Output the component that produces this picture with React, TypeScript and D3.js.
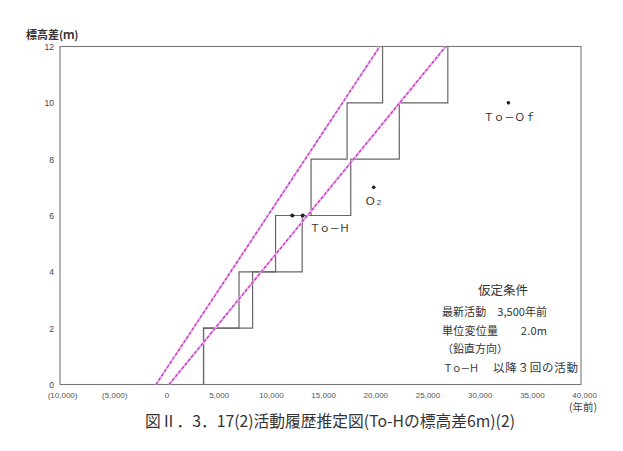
import React from 'react';
import * as d3 from 'd3';

// x: years before present, y: elevation difference (m)
const xTicks = [-10000, -5000, 0, 5000, 10000, 15000, 20000, 25000, 30000, 35000, 40000];
const yTicks = [0, 2, 4, 6, 8, 10, 12];
const eventsShort = [3500, 6900, 10400, 13800, 17250, 20650];
const eventsLong = [3500, 8200, 12950, 17600, 22250, 26900];
const stepHeights = [2, 4, 6, 8, 10, 12];
const trendShort: [number, number][] = [[-1050, 0], [20380, 12]];
const trendLong: [number, number][] = [[200, 0], [26700, 12]];
const toHAges = [12000, 13000];
const toHHeight = 6;
const o2Point = [19800, 7];
const toOfPoint = [32700, 10];
const legendTitle = '仮定条件';
const legendRows = ['最新活動　3,500年前', '単位変位量　　2.0m', '（鉛直方向）'];
const legendLast = ['Ｔｏ－Ｈ', '以降３回の活動'];
const titleText = '図Ⅱ．3．17(2)活動履歴推定図(To-Hの標高差6m)(2)';

const W = 623;
const H = 451;
const frame = { left: 60, right: 581, top: 46.5, bottom: 384.5 };

const x = d3.scaleLinear().domain([-10000, 40000]).range([62.6, 584.6]);
const y = d3.scaleLinear().domain([0, 12]).range([384.5, 46.5]);

const fmtX = (v: number) => {
  if (v === 0) return '0';
  const s = d3.format(',')(Math.abs(v));
  return v < 0 ? `(${s})` : s;
};

function stepPoints(events: number[]): [number, number][] {
  const pts: [number, number][] = [[events[0], 0]];
  events.forEach((e, i) => {
    pts.push([e, stepHeights[i]]);
    if (i < events.length - 1) pts.push([events[i + 1], stepHeights[i]]);
  });
  return pts;
}

const line = d3.line<[number, number]>().x(d => x(d[0])).y(d => y(d[1]));

const sans = '"Liberation Sans", "DejaVu Sans", sans-serif';
const jp = '"Noto Sans CJK JP", "Noto Sans", sans-serif';

export default function App() {
  const stepColor = '#666';
  return (
    <svg width={W} height={H} style={{ position: 'absolute', left: 0, top: 0, background: '#fff' }}>
      <rect x={0} y={0} width={W} height={H} fill="#fff" />
      {/* frame */}
      <rect x={frame.left} y={frame.top} width={frame.right - frame.left} height={frame.bottom - frame.top}
        fill="none" stroke="#777" strokeWidth={1.1} />
      {/* y-axis title */}
      <text x={26} y={39} fontFamily={jp} fontSize={11} fontWeight={700} fill="#333">標高差(ｍ)</text>
      {yTicks.map(v => (
        <text key={v} x={54} y={y(v) + 3.5} textAnchor="end" fontFamily={sans} fontSize={8.5} fill="#444">{v}</text>
      ))}
      {xTicks.map(v => (
        <text key={v} x={x(v)} y={398} textAnchor="middle" fontFamily={sans} fontSize={8} fill="#555">{fmtX(v)}</text>
      ))}
      <text x={569} y={411} fontFamily={jp} fontSize={10.5} fill="#444">(年前)</text>

      {/* staircases */}
      <path d={line(stepPoints(eventsShort)) || ''} fill="none" stroke={stepColor} strokeWidth={1.2} />
      <path d={line(stepPoints(eventsLong)) || ''} fill="none" stroke={stepColor} strokeWidth={1.2} />

      {/* trend lines */}
      {[trendShort, trendLong].map((t, i) => (
        <g key={i}>
          <path d={line(t) || ''} stroke="#f2a8ee" strokeWidth={2.2} fill="none" />
          <path d={line(t) || ''} stroke="#b82cb8" strokeWidth={1.1} strokeDasharray="3 2" fill="none" />
        </g>
      ))}

      {/* points */}
      {toHAges.map(a => (
        <circle key={a} cx={x(a)} cy={y(toHHeight)} r={2} fill="#222" />
      ))}
      <text x={x(toHAges[1]) + 7} y={y(toHHeight) + 16} fontFamily={jp} fontSize={10.5} fill="#333"
        textLength={40} lengthAdjust="spacing">Ｔｏ－Ｈ</text>

      <circle cx={x(o2Point[0])} cy={y(o2Point[1])} r={1.8} fill="#222" />
      <text x={x(o2Point[0]) - 8} y={y(o2Point[1]) + 18} fontFamily={sans} fontSize={11.5} fill="#333">
        O<tspan fontSize={8} dx={2}>2</tspan>
      </text>

      <circle cx={x(toOfPoint[0])} cy={y(toOfPoint[1])} r={1.8} fill="#222" />
      <text x={x(toOfPoint[0]) - 25} y={y(toOfPoint[1]) + 18} fontFamily={jp} fontSize={10.5} fill="#333"
        textLength={52} lengthAdjust="spacing">Ｔｏ－Ｏｆ</text>

      {/* assumptions */}
      <text x={503} y={295} textAnchor="middle" fontFamily={jp} fontSize={12.5} fill="#333">{legendTitle}</text>
      <text x={442} y={315.5} fontFamily={jp} fontSize={11} fill="#333" textLength={105} lengthAdjust="spacing">{legendRows[0]}</text>
      <text x={442} y={334.5} fontFamily={jp} fontSize={11} fill="#333" textLength={105} lengthAdjust="spacing">{legendRows[1]}</text>
      <text x={442} y={353} fontFamily={jp} fontSize={11} fill="#333">{legendRows[2]}</text>
      <text x={443} y={372} fontFamily={jp} fontSize={10} fill="#333" textLength={36} lengthAdjust="spacing">{legendLast[0]}</text>
      <text x={493} y={372} fontFamily={jp} fontSize={11.5} fill="#333" textLength={85} lengthAdjust="spacing">{legendLast[1]}</text>

      {/* caption */}
      <text x={145} y={427} fontFamily={jp} fontSize={16} fill="#333" textLength={370} lengthAdjust="spacingAndGlyphs">{titleText}</text>
    </svg>
  );
}
